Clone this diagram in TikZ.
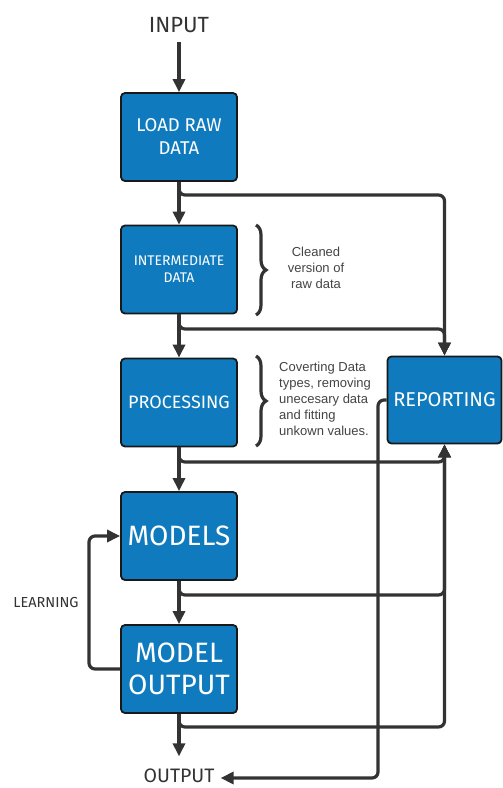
\documentclass[tikz,border=0pt]{standalone}
\usepackage{fontspec}
\setmainfont{Liberation Sans}
\newfontfamily\hand{Fira Sans}
\usetikzlibrary{arrows.meta,decorations.pathreplacing}
\definecolor{boxblue}{HTML}{0F7BBE}
\definecolor{linegray}{HTML}{333333}
\definecolor{txtgray}{HTML}{444444}
\tikzset{
  stage/.style={draw=black!90, line width=1.8pt, fill=boxblue, rounded corners=4pt,
    minimum width=116pt, minimum height=88pt, text=white, align=center, inner sep=0pt,
    font=\hand},
  conn/.style={draw=linegray, line width=3.2pt, rounded corners=6pt},
  arr/.style={conn, -{Triangle[length=13pt,width=12pt]}},
  lbl/.style={text=linegray, font=\hand, inner sep=1pt},
  note/.style={text=txtgray, font=\fontsize{13}{16}\selectfont, inner sep=0pt},
  brc/.style={draw=linegray, line width=3.2pt, decorate, decoration={brace, amplitude=10pt}}
}
\begin{document}
\begin{tikzpicture}[x=1pt,y=-1pt]
\useasboundingbox[fill=white] (0,0) rectangle (503,788);
% nodes
\node[lbl, font=\hand\fontsize{22}{24}\selectfont] (in) at (179,25) {INPUT};
\node[stage, font=\hand\fontsize{18.5}{23}\selectfont] (load) at (179,137) {LOAD RAW\\DATA};
\node[stage, font=\hand\fontsize{14}{17}\selectfont] (inter) at (179,269.5) {INTERMEDIATE\\DATA};
\node[stage, font=\hand\fontsize{18}{22}\selectfont] (proc) at (179,402.5) {PROCESSING};
\node[stage, font=\hand\fontsize{28}{32}\selectfont] (models) at (179,536) {MODELS};
\node[stage, font=\hand\fontsize{28}{32}\selectfont] (mo) at (179,669) {MODEL\\OUTPUT};
\node[stage, minimum width=114pt, minimum height=87pt, font=\hand\fontsize{20}{24}\selectfont] (rep) at (444.5,400) {REPORTING};
\node[lbl, font=\hand\fontsize{19.5}{22}\selectfont, inner sep=0pt] (out) at (179,775.5) {OUTPUT};
\node[lbl, font=\hand\fontsize{14.5}{16}\selectfont] (learn) at (46,602) {LEARNING};
\node[note, align=center] (n1) at (316,268) {Cleaned\\version of\\raw data};
\node[note, align=left, anchor=west] (n2) at (279,399) {Coverting Data\\types, removing\\unecesary data\\and fitting\\unkown values.};
% braces
\draw[brc] (256,225) -- (256,315);
\draw[brc] (256,356) -- (256,446);
% branch points
\coordinate (b1) at (179,195);
\coordinate (b2) at (179,329);
\coordinate (b3) at (179,462);
\coordinate (b4) at (179,595);
\coordinate (b5) at (179,727);
\coordinate (rd) at (378,400);
\coordinate (rb) at (378,778);
\coordinate (l1) at (89,669);
\coordinate (l2) at (89,536);
% main chain
\draw[arr, shorten <=8pt] (in.south) -- (load.north);
\draw[arr] (load.south) -- (inter.north);
\draw[arr] (inter.south) -- (proc.north);
\draw[arr] (proc.south) -- (models.north);
\draw[arr] (models.south) -- (mo.north);
\draw[arr, shorten >=12pt] (mo.south) -- (out.north);
% to reporting top
\draw[arr] (load.south) -- (b1) -- (b1 -| rep.north) -- (rep.north);
\draw[arr] (inter.south) -- (b2) -- (b2 -| rep.north) -- (rep.north);
% to reporting bottom
\draw[arr] (proc.south) -- (b3) -- (b3 -| rep.south) -- (rep.south);
\draw[arr] (models.south) -- (b4) -- (b4 -| rep.south) -- (rep.south);
\draw[arr] (mo.south) -- (b5) -- (b5 -| rep.south) -- (rep.south);
% reporting to output
\draw[arr, shorten >=6pt] (rep.west) -- (rd) -- (rb) -- (out.east |- rb);
% learning loop
\draw[arr] (mo.west) -- (l1) -- (l2) -- (models.west);
\end{tikzpicture}
\end{document}
